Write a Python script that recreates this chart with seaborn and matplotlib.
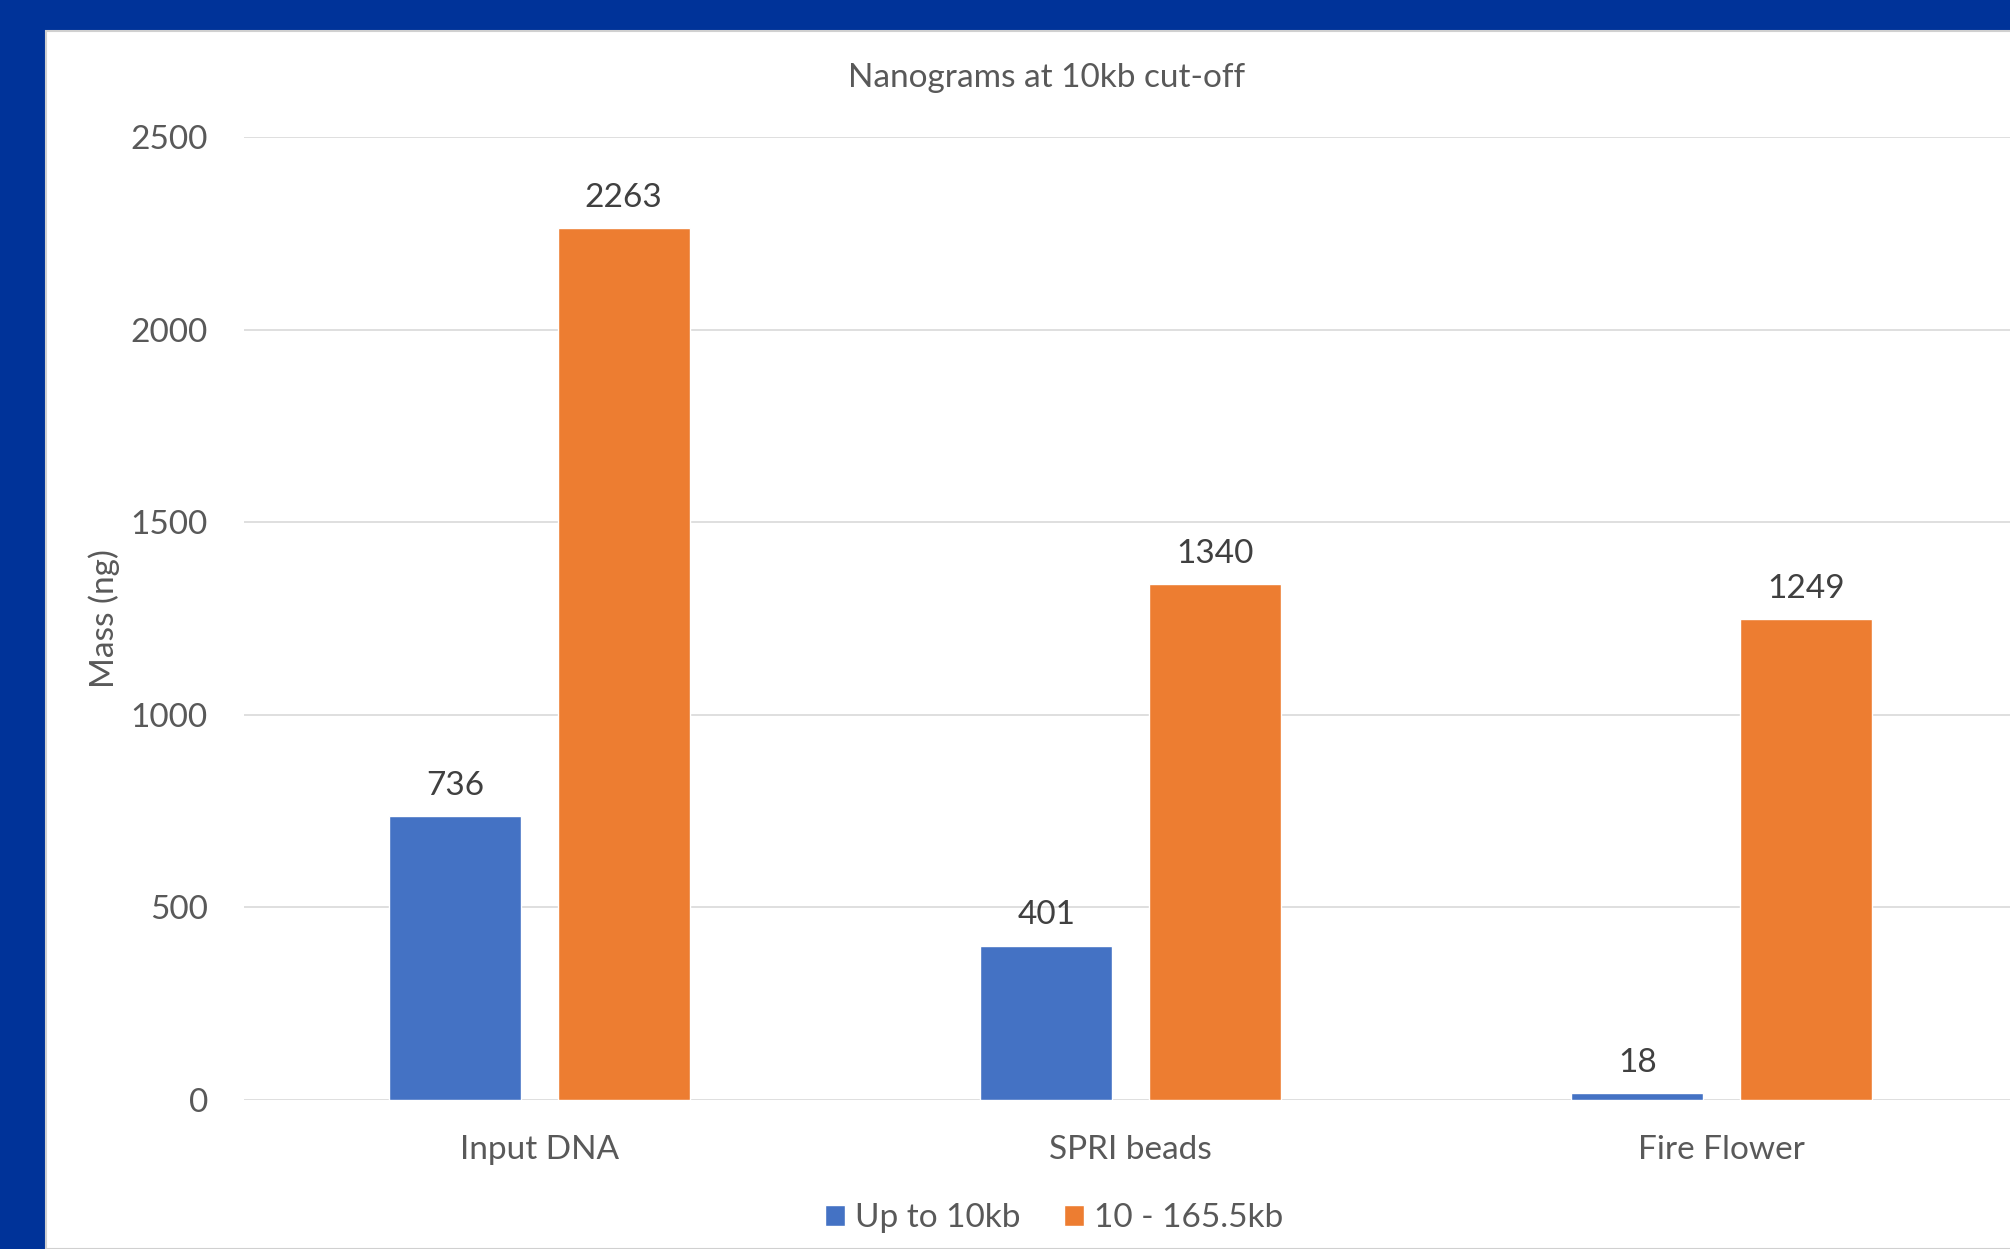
import matplotlib.pyplot as plt
import matplotlib.patches as mpatches
import seaborn as sns
import pandas as pd

# data
samples = ['Input DNA', 'SPRI beads', 'Fire Flower']
up_to_10kb = [736, 401, 18]
above_10kb = [2263, 1340, 1249]
series_names = ['Up to 10kb', '10 - 165.5kb']
y_ticks = [0, 500, 1000, 1500, 2000, 2500]

df = pd.DataFrame({
    'sample': samples * 2,
    'mass': up_to_10kb + above_10kb,
    'range': [series_names[0]] * 3 + [series_names[1]] * 3,
})

sns.set_style('white')
plt.rcParams['font.family'] = ['Lato', 'DejaVu Sans']

W, H = 2010, 1249
fig = plt.figure(figsize=(W / 100, H / 100), dpi=100)
fig.patch.set_facecolor('#003399')
# white panel inside the blue frame
fig.add_artist(mpatches.Rectangle((46 / W, 0), 1, 1 - 31 / H, transform=fig.transFigure,
                                  facecolor='white', edgecolor='#d0d0d0', linewidth=1.5, zorder=0))

ax = fig.add_axes([244 / W, 1 - 1100 / H, (2017 - 244) / W, (1100 - 137) / H])
ax.set_facecolor('none')

sns.barplot(data=df, x='sample', y='mass', hue='range', palette=['#4472C4', '#ED7D31'],
            width=0.57, gap=0.214, ax=ax, saturation=1)

for c in ax.containers:
    ax.bar_label(c, fmt='%d', padding=11, fontsize=24, color='#404040')

ax.set_ylim(0, 2500)
ax.set_xlim(-0.5, 2.5)
ax.set_yticks(y_ticks)
ax.yaxis.grid(True, color='#D9D9D9', linewidth=1.2)
ax.set_axisbelow(True)
sns.despine(ax=ax, left=True, bottom=True)
ax.tick_params(axis='both', length=0, labelsize=24, labelcolor='#595959')
ax.tick_params(axis='y', pad=26)
ax.tick_params(axis='x', pad=25.5)
ax.set_xlabel('')
ax.set_ylabel('Mass (ng)', fontsize=24, color='#595959')
ax.yaxis.set_label_coords(-(244 - 120) / (2017 - 244), 0.5)

handles, labels = ax.get_legend_handles_labels()
ax.get_legend().remove()
fig.legend(handles, labels, loc='center', bbox_to_anchor=(1054 / W, 1 - 1218 / H), ncol=2,
           frameon=False, fontsize=24, labelcolor='#595959', handlelength=0.6, handleheight=0.6,
           handletextpad=0.3, columnspacing=1.3)

fig.text(1047 / W, 1 - 78 / H, 'Nanograms at 10kb cut-off', ha='center', va='center',
         fontsize=24, color='#595959')

plt.savefig('out.png', dpi=100, facecolor=fig.get_facecolor())
